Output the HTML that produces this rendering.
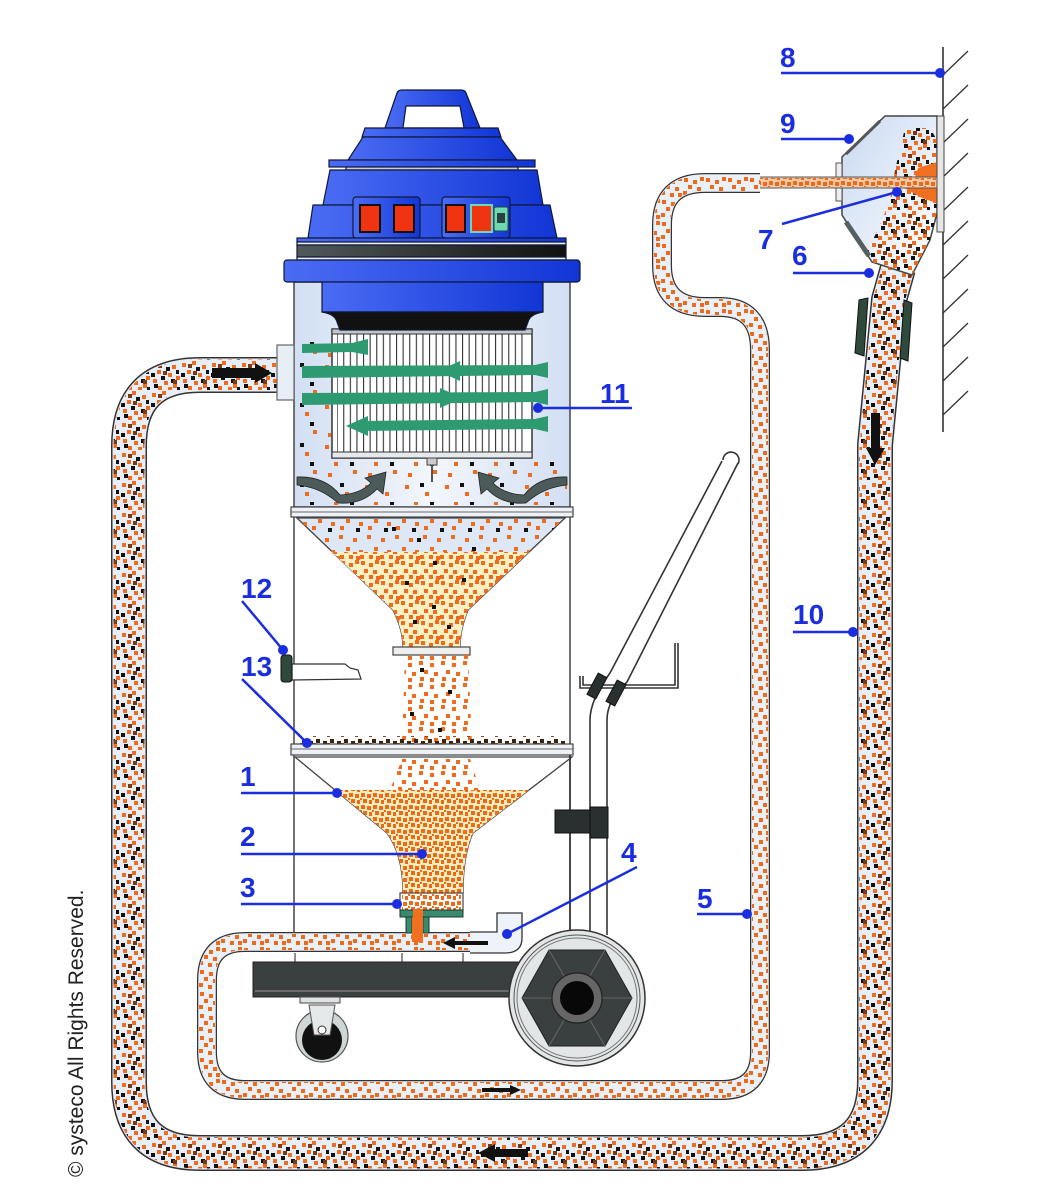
<!DOCTYPE html>
<html><head><meta charset="utf-8"><style>
html,body{margin:0;padding:0;background:#fff;}
svg{display:block;}
.lb{font-family:"Liberation Sans",sans-serif;font-weight:bold;font-size:28px;fill:#1a2ee0;}
.ln{stroke:#1a2ee0;stroke-width:2.5;fill:none;}
.dt{fill:#1a2ee0;}
</style></head><body>
<svg width="1050" height="1200" viewBox="0 0 1050 1200" xmlns="http://www.w3.org/2000/svg">
<defs>
 <pattern id="p10" width="30" height="30" patternUnits="userSpaceOnUse">
  <path fill="#ef6c1e" d="M2 3h4v4h-4z M12 1h4v4h-4z M22 5h4v4h-4z M7 10h4v4h-4z M18 13h4v4h-4z M26 16h4v4h-4z M3 19h4v4h-4z M14 21h4v4h-4z M23 24h4v4h-4z M8 26h4v4h-4z M18 27h4v3h-4z"/>
  <path fill="#111" d="M16 7h4v4h-4z M26 10h3v4h-3z M1 13h4v4h-4z M11 16h4v4h-4z M21 19h4v4h-4z M4 24h4v4h-4z M27 27h3v3h-3z"/>
  <path fill="#7a3a14" d="M8 4h4v4h-4z M23 20h4v4h-4z M13 11h4v4h-4z"/>
 </pattern>
 <pattern id="p5" width="22" height="22" patternUnits="userSpaceOnUse">
  <path fill="#ee6a1a" d="M2 2h4v4h-4z M11 4h4v4h-4z M18 1h4v4h-4z M6 9h4v4h-4z M15 11h4v4h-4z M1 15h4v4h-4z M10 17h4v4h-4z M18 17h4v4h-4z"/>
 </pattern>
 <pattern id="pc" width="20" height="20" patternUnits="userSpaceOnUse">
  <path fill="#ef6c1e" d="M1 1h4v4h-4z M9 3h4v4h-4z M15 0h4v4h-4z M4 9h4v4h-4z M13 10h4v4h-4z M0 15h4v4h-4z M9 15h4v4h-4z M16 16h4v4h-4z"/>
 </pattern>
 <pattern id="pst" width="22" height="22" patternUnits="userSpaceOnUse">
  <path fill="#ef6c1e" d="M1 1h4v4h-4z M12 3h4v4h-4z M6 10h4v4h-4z M16 12h4v4h-4z M2 17h4v4h-4z M12 18h4v4h-4z"/>
 </pattern>
 <pattern id="pd" width="12" height="12" patternUnits="userSpaceOnUse">
  <path fill="#ef6a18" d="M1 1h4v4h-4z M7 2h4v4h-4z M3 7h4v4h-4z M9 8h3v4h-3z M0 6h2v2h-2z"/>
 </pattern>
 <pattern id="ps" width="40" height="40" patternUnits="userSpaceOnUse">
  <path fill="#ef6c1e" d="M5 5h4v4h-4z M25 12h4v4h-4z M14 22h4v4h-4z M33 30h4v4h-4z M8 33h4v4h-4z"/>
  <path fill="#111" d="M20 3h4v4h-4z M30 22h4v4h-4z"/>
 </pattern>
 <pattern id="ps2" width="28" height="28" patternUnits="userSpaceOnUse">
  <path fill="#ef6c1e" d="M3 3h4v4h-4z M17 6h4v4h-4z M10 15h4v4h-4z M23 18h4v4h-4z M4 22h4v4h-4z"/>
  <path fill="#111" d="M20 24h4v4h-4z"/>
 </pattern>
 <pattern id="pdeb" width="14" height="9" patternUnits="userSpaceOnUse">
  <path fill="#3a2410" d="M1 3h4v4h-4z M8 1h4v4h-4z"/>
  <path fill="#8a4a1a" d="M5 5h3v3h-3z"/>
 </pattern>
 <pattern id="pf" width="6.6" height="20" patternUnits="userSpaceOnUse">
  <rect x="0" y="0" width="1.1" height="20" fill="#333"/>
 </pattern>
 <linearGradient id="gb" x1="0" x2="1" y1="0" y2="0">
  <stop offset="0" stop-color="#4a6cf4"/><stop offset="1" stop-color="#1236d6"/>
 </linearGradient>
 <linearGradient id="gk" x1="0" x2="1" y1="0" y2="0">
  <stop offset="0" stop-color="#4f5a5a"/><stop offset="1" stop-color="#111"/>
 </linearGradient>
 <linearGradient id="gt" x1="0" x2="1" y1="0" y2="0">
  <stop offset="0" stop-color="#d2dff3"/><stop offset="0.5" stop-color="#f3f6fc"/><stop offset="1" stop-color="#d2dff3"/>
 </linearGradient>
 <linearGradient id="gu" x1="0" x2="1" y1="0" y2="1">
  <stop offset="0" stop-color="#c9d9f2"/><stop offset="1" stop-color="#ffffff"/>
 </linearGradient>
</defs>

<!-- wall -->
<line x1="943" y1="47" x2="943" y2="432" stroke="#333" stroke-width="1.6"/>
<g stroke="#333" stroke-width="1.3">
 <line x1="943" y1="75" x2="968" y2="51"/>
 <line x1="943" y1="109" x2="968" y2="85"/>
 <line x1="943" y1="143" x2="968" y2="119"/>
 <line x1="943" y1="177" x2="968" y2="153"/>
 <line x1="943" y1="211" x2="968" y2="187"/>
 <line x1="943" y1="245" x2="968" y2="221"/>
 <line x1="943" y1="279" x2="968" y2="255"/>
 <line x1="943" y1="313" x2="968" y2="289"/>
 <line x1="943" y1="347" x2="968" y2="323"/>
 <line x1="943" y1="381" x2="968" y2="357"/>
 <line x1="943" y1="415" x2="968" y2="391"/>
</g>

<!-- hose 10 -->
<g fill="none" stroke-linejoin="round">
 <path d="M 292 375 L 200 375 Q 129 375 129 446 L 129 1082 Q 129 1153 200 1153 L 802 1153 Q 875 1153 875 1080 L 875 445 L 889 300 L 898 268" stroke="#333" stroke-width="36"/>
 <path d="M 292 375 L 200 375 Q 129 375 129 446 L 129 1082 Q 129 1153 200 1153 L 802 1153 Q 875 1153 875 1080 L 875 445 L 889 300 L 898 268" stroke="#e8eef8" stroke-width="33"/>
 <path d="M 292 375 L 200 375 Q 129 375 129 446 L 129 1082 Q 129 1153 200 1153 L 802 1153 Q 875 1153 875 1080 L 875 445 L 889 300 L 898 268" stroke="url(#p10)" stroke-width="31"/>
</g>
<g fill="#111">
 <polygon points="212,368 255,368 255,363 272,373 255,383 255,378 212,378"/>
 <polygon points="871,413 880,413 880,448 885,448 875,465 866,448 871,448"/>
 <polygon points="528,1149 495,1149 495,1144 478,1153 495,1162 495,1157 528,1157"/>
</g>
<!-- hose 6 cuffs -->
<g fill="#2f4a3c" stroke="#111" stroke-width="1">
 <polygon points="859,300 868,298 864,356 855,353"/>
 <polygon points="904,300 912,303 908,361 900,358"/>
</g>

<!-- wall unit 9 -->
<polygon points="885,116 937,116 937,213 930,240 912,275 872,262 842,215 842,157" fill="url(#gu)" stroke="#444" stroke-width="1.5"/>
<polygon points="905,128 930,128 937,140 937,213 930,240 912,275 872,262 868,250 880,225 890,200 895,170" fill="url(#p10)"/>
<polygon points="918,168 937,162 937,203 922,198 908,190 900,186 914,180" fill="#f07020"/>
<rect x="937" y="116" width="7" height="116" fill="#e6e6e6" stroke="#444" stroke-width="1"/>
<rect x="836" y="163" width="6" height="38" fill="#eee" stroke="#555" stroke-width="1"/>
<line x1="846" y1="154" x2="880" y2="121" stroke="#555" stroke-width="3"/>
<line x1="846" y1="222" x2="869" y2="256" stroke="#556060" stroke-width="5"/>
<rect x="757" y="177" width="180" height="11" fill="#f6c9a8" stroke="#555" stroke-width="1"/>
<rect x="757" y="178" width="180" height="9" fill="url(#pd)"/>

<!-- hose 5 -->
<g fill="none" stroke-linejoin="round">
 <path d="M 500 942 L 245 942 Q 207 942 207 980 L 207 1052 Q 207 1090 245 1090 L 722 1090 Q 760 1090 760 1052 L 760 350 Q 760 307 720 307 L 705 307 Q 662 307 662 265 L 662 225 Q 662 183 705 183 L 760 183" stroke="#333" stroke-width="20"/>
 <path d="M 500 942 L 245 942 Q 207 942 207 980 L 207 1052 Q 207 1090 245 1090 L 722 1090 Q 760 1090 760 1052 L 760 350 Q 760 307 720 307 L 705 307 Q 662 307 662 265 L 662 225 Q 662 183 705 183 L 760 183" stroke="#eaf0f8" stroke-width="17.5"/>
 <path d="M 500 942 L 245 942 Q 207 942 207 980 L 207 1052 Q 207 1090 245 1090 L 722 1090 Q 760 1090 760 1052 L 760 350 Q 760 307 720 307 L 705 307 Q 662 307 662 265 L 662 225 Q 662 183 705 183 L 760 183" stroke="url(#p5)" stroke-width="16"/>
</g>
<polygon points="482,1088 510,1088 510,1085 521,1090 510,1095 510,1092 482,1092" fill="#111"/>

<!-- tank upper -->
<rect x="294" y="282" width="276" height="225" fill="url(#gt)" stroke="#444" stroke-width="1.5"/>
<rect x="277" y="345" width="17" height="55" fill="#e8eef6" stroke="#666" stroke-width="1.2"/>
<path d="M 298 340 L 331 340 L 331 460 L 567 460 L 567 505 L 298 505 Z" fill="url(#ps)"/>
<!-- filter -->
<rect x="332" y="329" width="200" height="129" fill="#fff" stroke="#333" stroke-width="1.5"/>
<rect x="337" y="334" width="191" height="118" fill="url(#pf)"/>
<rect x="332" y="329" width="200" height="5" fill="#bfc6cc" stroke="#333" stroke-width="1"/>
<rect x="332" y="452" width="200" height="6" fill="#e6eaee" stroke="#333" stroke-width="1"/>
<rect x="427" y="458" width="10" height="7" fill="#ccc" stroke="#444" stroke-width="1"/>
<line x1="432" y1="465" x2="432" y2="482" stroke="#555" stroke-width="2"/>
<!-- green arrows -->
<g fill="#2e9a72">
 <polygon points="302,344 352,343 368,339 368,355 352,352 302,353"/>
 <polygon points="302,366 535,365 548,362 548,378 535,375 302,378"/>
 <polygon points="438,371 460,361 460,381"/>
 <polygon points="302,393 535,392 548,389 548,405 535,402 302,405"/>
 <polygon points="462,398 440,388 440,408"/>
 <polygon points="360,421 535,419 548,416 548,432 535,429 360,431"/>
 <polygon points="346,426 368,416 368,436"/>
</g>
<!-- gray curved arrows -->
<g fill="#4d5a5a" stroke="#222" stroke-width="0.8">
 <path d="M 297 477 Q 325 476 340 495 Q 360 494 371 483 L 365 478 L 386 472 L 383 494 L 377 489 Q 362 505 338 503 Q 320 487 297 485 Z"/>
 <path d="M 297 477 Q 325 476 340 495 Q 360 494 371 483 L 365 478 L 386 472 L 383 494 L 377 489 Q 362 505 338 503 Q 320 487 297 485 Z" transform="translate(864,0) scale(-1,1)"/>
</g>

<!-- blue head -->
<g stroke="#101838" stroke-width="1.2">
 <path d="M 385 128 L 397 93 Q 398 90 402 90 L 461 90 Q 465 90 466 93 L 480 128 Z" fill="url(#gb)"/>
 <path d="M 403 128 L 406 106 L 460 106 L 464 128 Z" fill="#fff"/>
 <path d="M 365 128 L 498 128 L 501 137 L 362 137 Z" fill="url(#gb)"/>
 <path d="M 363 137 L 500 137 L 517 160 L 348 160 Z" fill="url(#gb)"/>
 <rect x="329" y="160" width="206" height="7" fill="url(#gb)"/>
 <rect x="346" y="167" width="172" height="3" fill="#c8ccd8"/>
 <path d="M 330 170 L 537 170 L 543 205 L 323 205 Z" fill="url(#gb)"/>
 <path d="M 313 205 L 550 205 L 557 238 L 308 238 Z" fill="url(#gb)"/>
 <rect x="353" y="197" width="67" height="41" rx="3" fill="url(#gb)"/>
 <rect x="442" y="197" width="68" height="41" rx="3" fill="url(#gb)"/>
 <rect x="297" y="238" width="269" height="4" fill="url(#gb)"/>
 <rect x="297" y="242" width="269" height="3" fill="#e8eaee"/>
 <rect x="297" y="245" width="269" height="12" fill="url(#gk)"/>
 <rect x="297" y="257" width="269" height="3" fill="#e8eaee"/>
 <rect x="284" y="260" width="296" height="22" rx="3" fill="url(#gb)"/>
 <rect x="322" y="282" width="221" height="30" fill="url(#gb)"/>
 <path d="M 322 312 L 543 312 Q 530 314 528 322 L 525 330 L 340 330 L 337 322 Q 335 314 322 312 Z" fill="#111"/>
</g>
<g stroke="#111" stroke-width="2" fill="#f03412">
 <rect x="360" y="205" width="20" height="27"/>
 <rect x="394" y="205" width="20" height="27"/>
 <rect x="446" y="205" width="19" height="27"/>
 <rect x="471" y="205" width="21" height="27" stroke="#6fd8b0"/>
</g>
<rect x="494" y="207" width="14" height="24" rx="2" fill="#6fd8b0" stroke="#1a4a40" stroke-width="1"/>
<rect x="497" y="213" width="8" height="10" fill="#2a4040"/>

<!-- band 1 -->
<rect x="291" y="507" width="282" height="10" fill="#eef2f6" stroke="#444" stroke-width="1.2"/>
<line x1="291" y1="512" x2="573" y2="512" stroke="#666" stroke-width="1"/>
<!-- tank walls -->
<line x1="294" y1="517" x2="294" y2="933" stroke="#444" stroke-width="1.5"/>
<line x1="570" y1="517" x2="570" y2="933" stroke="#444" stroke-width="1.5"/>

<!-- upper cone -->
<path d="M 297 518 L 565 518 L 468 610 Q 460 630 460 647 L 403 647 Q 403 630 393 610 Z" fill="#dde7f5" stroke="#444" stroke-width="1.3"/>
<path d="M 332 552 L 529 552 L 468 610 Q 460 630 460 647 L 403 647 Q 403 630 393 610 Z" fill="#fcf0c2"/>
<path d="M 297 518 L 565 518 L 529 552 L 332 552 Z" fill="url(#ps2)"/>
<path d="M 332 552 L 529 552 L 468 610 Q 460 630 460 647 L 403 647 Q 403 630 393 610 Z" fill="url(#pc)"/>
<g fill="#111"><rect x="392" y="527" width="4" height="4"/><rect x="417" y="538" width="4" height="4"/><rect x="472" y="547" width="4" height="4"/><rect x="433" y="561" width="4" height="4"/><rect x="405" y="581" width="4" height="4"/><rect x="462" y="578" width="4" height="4"/><rect x="432" y="605" width="4" height="4"/><rect x="413" y="620" width="4" height="4"/><rect x="447" y="625" width="4" height="4"/></g>
<rect x="393" y="647" width="77" height="8" fill="#eee" stroke="#444" stroke-width="1.2"/>
<!-- stream -->
<path d="M 405 655 L 468 655 L 472 745 L 402 745 Z" fill="url(#pst)"/>
<g fill="#111"><rect x="420" y="668" width="4" height="4"/><rect x="448" y="690" width="4" height="4"/><rect x="410" y="712" width="4" height="4"/><rect x="438" y="728" width="4" height="4"/></g>
<!-- valve 12 -->
<path d="M 292 664 L 345 664 L 350 668 L 358 670 L 361 679 L 292 680 Z" fill="#fff" stroke="#333" stroke-width="1.2"/>
<rect x="281" y="655" width="11" height="27" rx="3" fill="#2f4a3c" stroke="#111" stroke-width="1"/>
<!-- band 13 -->
<rect x="300" y="736" width="265" height="8" fill="url(#pdeb)"/>
<rect x="291" y="744" width="282" height="11" fill="#eef2f6" stroke="#444" stroke-width="1.2"/>
<line x1="291" y1="749" x2="573" y2="749" stroke="#666" stroke-width="1"/>

<!-- lower cone -->
<path d="M 295 757 L 572 757 L 473 833 Q 463 855 463 893 L 403 893 Q 403 855 387 833 Z" fill="#fff" stroke="#444" stroke-width="1.3"/>
<path d="M 335 790 L 529 790 L 473 833 Q 463 855 463 893 L 403 893 Q 403 855 387 833 Z" fill="#fbeebe"/>
<path d="M 335 790 L 529 790 L 473 833 Q 463 855 463 893 L 403 893 Q 403 855 387 833 Z" fill="url(#pd)"/>
<path d="M 402 759 L 470 759 L 480 790 L 390 790 Z" fill="url(#pst)"/>
<rect x="400" y="893" width="63" height="18" fill="#fff" stroke="#444" stroke-width="1.2"/>
<rect x="402" y="893" width="59" height="17" fill="url(#pd)"/>
<rect x="400" y="910" width="63" height="7" fill="#3a8a70" stroke="#1a3a30" stroke-width="1"/>
<rect x="413" y="909" width="10" height="9" fill="#f07020"/>
<rect x="406" y="917" width="6" height="16" fill="#3a8a70" stroke="#1a3a30" stroke-width="1"/>
<rect x="423" y="917" width="6" height="16" fill="#3a8a70" stroke="#1a3a30" stroke-width="1"/>
<rect x="412" y="917" width="11" height="25" fill="#f07020"/>

<!-- nozzle 4 -->
<path d="M 470 932 L 497 932 L 497 913 L 522 913 L 522 938 Q 522 953 505 953 L 470 953" fill="#eef3fa" stroke="#333" stroke-width="1.3"/>
<polygon points="488,941 455,941 455,937 443,943 455,949 455,945 488,945" fill="#111"/>

<!-- frame -->
<g stroke="#444" stroke-width="1.2">
 <line x1="295" y1="953" x2="295" y2="962"/><line x1="402" y1="953" x2="402" y2="962"/><line x1="463" y1="953" x2="463" y2="962"/>
</g>
<rect x="253" y="962" width="265" height="35" fill="#3a3f3f" stroke="#222" stroke-width="1"/>
<line x1="255" y1="991" x2="516" y2="991" stroke="#999" stroke-width="1"/>
<!-- caster -->
<rect x="300" y="997" width="40" height="6" fill="#dde2e2" stroke="#444" stroke-width="1"/>
<circle cx="322" cy="1036" r="26" fill="#cfd6d6" stroke="#555" stroke-width="1.2"/>
<circle cx="322" cy="1040" r="20" fill="#111"/>
<path d="M 309 1005 L 335 1005 L 330 1035 L 314 1035 Z" fill="#e4e8e8" stroke="#555" stroke-width="1"/>
<circle cx="322" cy="1030" r="4" fill="#fff" stroke="#333" stroke-width="1"/>

<!-- handle -->
<g fill="none" stroke="#333" stroke-width="1.6">
 <path d="M 580 676 L 580 688 L 678 688 L 678 643"/>
 <path d="M 583 676 L 583 685 L 675 685 L 675 643"/>
 <path d="M 722 461 L 610 673 Q 590 700 590 720 L 590 935"/>
 <path d="M 738 463 L 627 682 Q 607 700 607 720 L 607 935"/>
 <path d="M 723 460 A 8 8 0 1 1 738 464"/>
 <line x1="570" y1="755" x2="570" y2="935"/>
</g>
<rect x="592" y="674" width="10" height="24" fill="#2a3030" stroke="#111" transform="rotate(28 597 686)"/>
<rect x="611" y="681" width="10" height="24" fill="#2a3030" stroke="#111" transform="rotate(28 616 693)"/>
<rect x="555" y="810" width="36" height="23" fill="#2a3030" stroke="#111"/>
<rect x="590" y="807" width="18" height="31" fill="#2a3030" stroke="#111"/>

<!-- big wheel -->
<circle cx="577" cy="998" r="68" fill="#e2e6e6" stroke="#333" stroke-width="1.5"/>
<circle cx="577" cy="998" r="63" fill="none" stroke="#555" stroke-width="1"/>
<circle cx="577" cy="998" r="60" fill="none" stroke="#777" stroke-width="1"/>
<polygon points="632,998 605,950 549,950 522,998 549,1046 605,1046" fill="#3a3f3f" stroke="#222" stroke-width="1"/>
<g stroke="#666" stroke-width="1"><line x1="577" y1="998" x2="605" y2="950"/><line x1="577" y1="998" x2="549" y2="950"/><line x1="577" y1="998" x2="522" y2="998"/><line x1="577" y1="998" x2="632" y2="998"/><line x1="577" y1="998" x2="549" y2="1046"/><line x1="577" y1="998" x2="605" y2="1046"/></g>
<circle cx="577" cy="998" r="25" fill="#666" stroke="#222" stroke-width="1.2"/>
<circle cx="577" cy="998" r="17" fill="#080808"/>

<!-- labels -->
<text class="lb" x="780" y="67">8</text>
<line class="ln" x1="781" y1="73" x2="940" y2="73"/><circle class="dt" cx="940" cy="73" r="5"/>
<text class="lb" x="780" y="133">9</text>
<line class="ln" x1="781" y1="139" x2="849" y2="139"/><circle class="dt" cx="849" cy="139" r="5"/>
<text class="lb" x="758" y="249">7</text>
<line class="ln" x1="782" y1="224" x2="897" y2="192"/><circle class="dt" cx="897" cy="192" r="5"/>
<text class="lb" x="792" y="265">6</text>
<line class="ln" x1="793" y1="273" x2="869" y2="273"/><circle class="dt" cx="869" cy="273" r="5"/>
<text class="lb" x="600" y="403">11</text>
<line class="ln" x1="538" y1="408" x2="632" y2="408"/><circle class="dt" cx="538" cy="408" r="5"/>
<text class="lb" x="793" y="624">10</text>
<line class="ln" x1="793" y1="632" x2="853" y2="632"/><circle class="dt" cx="853" cy="632" r="5"/>
<text class="lb" x="241" y="598">12</text>
<line class="ln" x1="242" y1="601" x2="283" y2="650"/><circle class="dt" cx="283" cy="650" r="5"/>
<text class="lb" x="241" y="676">13</text>
<line class="ln" x1="242" y1="679" x2="307" y2="743"/><circle class="dt" cx="307" cy="743" r="5"/>
<text class="lb" x="240" y="786">1</text>
<line class="ln" x1="241" y1="793" x2="337" y2="793"/><circle class="dt" cx="337" cy="793" r="5"/>
<text class="lb" x="240" y="846">2</text>
<line class="ln" x1="241" y1="854" x2="422" y2="854"/><circle class="dt" cx="422" cy="854" r="5"/>
<text class="lb" x="240" y="897">3</text>
<line class="ln" x1="241" y1="904" x2="397" y2="904"/><circle class="dt" cx="397" cy="904" r="5"/>
<text class="lb" x="621" y="862">4</text>
<line class="ln" x1="637" y1="867" x2="507" y2="934"/><circle class="dt" cx="507" cy="934" r="5"/>
<text class="lb" x="697" y="908">5</text>
<line class="ln" x1="697" y1="914" x2="747" y2="914"/><circle class="dt" cx="747" cy="914" r="5"/>

<!-- copyright -->
<text transform="translate(83,1177) rotate(-90)" font-family="Liberation Sans, sans-serif" font-size="21" fill="#222">© systeco All Rights Reserved.</text>
</svg>
</body></html>
